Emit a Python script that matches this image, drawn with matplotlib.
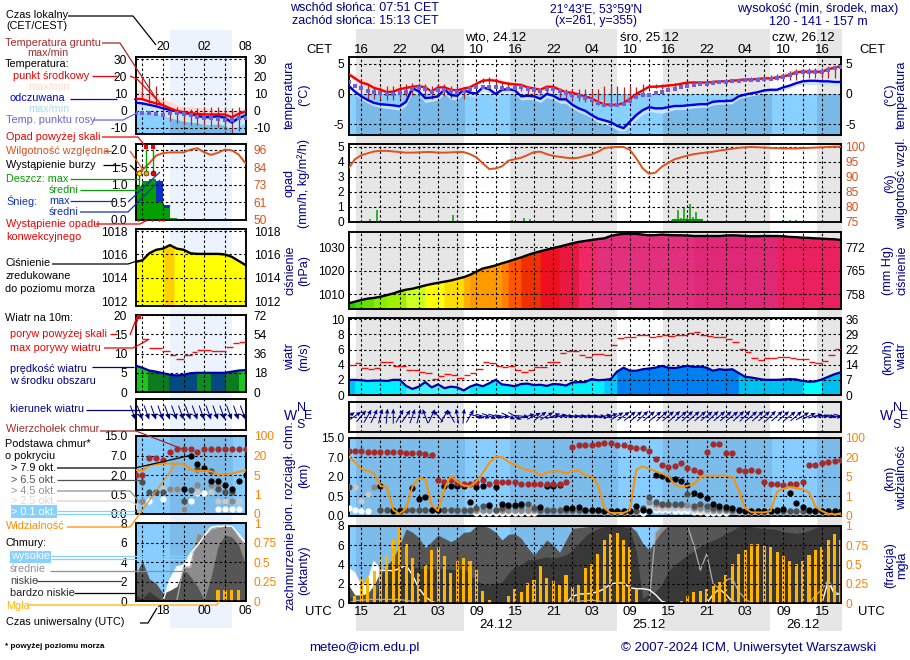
import numpy as np
import matplotlib
matplotlib.use('Agg')
import matplotlib.pyplot as plt
from matplotlib.patches import Rectangle

plt.rcParams['font.family'] = ['Liberation Sans', 'DejaVu Sans']
plt.rcParams['font.size'] = 8.6
n = np.nan

# ---- main meteogram, hourly from 13 UTC 23.12 -------------------------------
temp_mid = [3.3,2.6,1.9,1.6,1.0,.7,.3,.4,.8,1.0,1.2,1.3,1.1,.4,1.1,1.1,.7,.6,.9,1.1,1.7,2.2,2.3,2.2,1.9,1.7,1.6,1.5,1.1,.9,.7,1.2,1.2,.7,.3,.2,-.1,-.4,-.7,-1.3,
            -1.7,-1.8,-1.8,-1.5,-.8,0,.6,1.2,1.2,1.3,1.4,1.5,1.7,1.9,1.9,1.9,1.9,2.0,2.1,2.1,2.2,2.3,2.4,2.4,2.5,2.6,2.6,2.7,2.9,3.2,3.6,3.7,3.7,3.7,3.7,4.1,4.4,4.6]
temp_max = [3.6,3.2,2.8,2.3,2.0,1.5,1.2,1.1,1.3,1.5,1.6,1.7,1.4,1.0,1.4,1.4,1.2,1,1.3,1.6,2,2.6,2.7,2.6,2.4,2.1,2.0,1.9,1.6,1.3,1.1,1.6,1.6,1.1,.7,.6,.3,0,-.3,-.9,
            -1.3,-1.4,-1.4,-1.1,-.4,.4,1,1.5,1.5,1.6,1.7,1.8,2,2.2,2.1,2.1,2.1,2.2,2.3,2.3,2.4,2.5,2.6,2.7,2.8,3,3.1,3.2,3.5,3.9,4.2,4.3,4.3,4.3,4.3,4.7,4.9,5.0]
feels = [1.4,.4,-.4,-1.0,-1.5,-1.7,-1.8,-1.9,-2.05,-1.3,1.0,.4,-.7,-.6,-.4,.8,-.2,-.3,.7,.2,.1,1.1,.8,0,.7,.8,.6,-.4,-.3,-.4,-.8,0,-.3,-.9,-.9,-1.8,-2.4,-2.8,-3.5,-4.1,
         -4.4,-4.7,-5.3,-5.7,-4.6,-3.5,-2.7,-2.2,-2.4,-2.4,-2.2,-2,-2,-1.9,-1.8,-1.7,-1.7,-1.3,-1.2,-1.2,-1.1,-.4,-.1,.1,.3,.6,.7,.7,1.1,1.4,1.8,2.1,2.2,2.2,2.1,2.1,2,2]
feels_min = [.9,-.1,-.9,-1.5,-2,-2.2,-2.4,-2.5,-2.7,-1.9,.3,-.2,-1.4,-1.2,-1,.1,-.9,-1,.1,-.4,-.5,.5,.2,-.6,.1,.2,0,-1,-.9,-1,-1.4,-.6,-.9,-1.5,-1.6,-2.4,-3,-3.4,-4,-4.7,
             -5,-5.3,-6,-6.2,-5.4,-4.3,-3.4,-2.9,-3.1,-3.2,-2.9,-2.6,-2.6,-2.5,-2.3,-2.2,-2.2,-1.8,-1.7,-1.7,-1.6,-.8,-.5,-.3,-.1,.2,.3,.3,.7,1,1.4,1.6,1.6,1.6,1.5,1.5,1.4,1.4]
dew = [2.0,1.4,1,.5,.4,.2,0,0,.1,.4,.8,1,.9,.3,.7,.7,.5,.4,.5,.8,1.1,1.2,1.2,1.2,1,.9,1,1.1,.8,.7,.5,.8,.8,.5,.1,-.1,-.4,-.7,-1,-1.5,
       -1.8,-1.9,-1.9,-1.6,-1.1,-.5,-.2,-.1,.2,.4,.7,.9,1.1,1.3,1.5,1.6,1.7,1.8,2,2,2.1,2.2,2.3,2.3,2.4,2.5,2.5,2.6,2.8,3.1,3.5,3.6,3.6,3.6,3.6,4,4.3,4.5]
ground_max = [n,n,1.9,1.5,1.2,1.2,1.3,1.3,1.4,1.7,1.9,1.9,1.7,1.3,1.7,1.7,1.4,1.3,1.2,1.1,1.8,2.7,2.9,2.7,2.2,2,1.9,1.7,1.4,1.1,.9,1.4,1.4,1,.9,.9,.9,.9,.9,.9,
              1.3,1.3,1.3,1.2,1.3,1.1,1.7,1.7,1.7,1.7,1.7,1.8,1.9,2.1,2.2,2.2,2.2,2.3,2.4,2.4,2.5,2.6,2.7,2.8,2.9,3,3.1,3.3,3.5,3.9,4.2,4.2,4.4,4.4,4.4,4.6,4.7,4.6]
ground_min = [n,n,-.8,-.8,-.8,-.8,-1,-1,-.7,-.4,-.2,-.1,-.3,-.9,-.5,-.4,-.6,-.7,-.9,.4,1,1.9,1.7,1.6,1.3,1.1,1,.5,-.1,-.1,-.2,0,0,-.6,-.9,-1.1,-1.2,-1.4,-1.6,-1.8,
              -2,-2.1,-2,-1.9,-1.4,-.7,0,.9,1,.9,1.2,1.2,1.3,1.6,1.7,1.7,1.7,1.8,1.9,1.9,2,2.1,2.1,2.1,2.2,2.2,2.3,2.3,2.3,2.4,2.4,2.6,2.6,2.6,2.6,2.7,2.6,2.7]

humidity = [92.8,95.9,97.2,97.9,98.5,98.7,98.7,98.5,98.3,98.1,98.1,98.2,98.3,98.3,98.1,98.1,98.2,98.3,98.3,97.6,96.5,94.5,92.6,92.8,93.5,95.4,95.9,96.4,97.3,98.3,98.4,97.6,97,96.7,96.4,96.2,96.4,97,97.5,98.4,
            99.6,99.9,100,100,99,96.2,92.8,91,91.4,93.4,94.7,95.9,96.5,97.1,97.6,97.9,98.2,98.4,98.8,99.1,99.4,99.7,99.9,100,99.9,99.8,99.7,99.6,99.5,99.5,99.5,99.6,99.7,99.8,99.9,100,100.1,100.1]
rain_hours = [3.4,4.5,16.4,17.5,25.5,27.4,28.4,50.6,51,51.5,52,52.5,53,53.4,53.8,54.4,54.9,55.4,62,65,66,67,68,69,70,71,72]
rain_vals = [.2,.75,.43,.06,.1,.25,.2,.1,.2,.75,.22,1.0,.25,1.2,.28,.65,.2,.06,.03,.04,.06,.06,.08,.08,.1,.06,.04]

pressure = [1006.2,1006.9,1007.6,1008.2,1008.5,1009,1009.7,1010.4,1011.3,1012,1012.4,1013.1,1013.8,1014.4,1014.9,1015.4,1015.9,1016.6,1017.3,1018.3,1019.7,1021,1021.6,1022.3,1023.2,1024,1024.9,1025.7,1026.7,1027.6,1028.3,1029,1029.7,1030.3,1031,1031.7,1032.3,1032.7,1033.1,1033.5,
            1033.8,1034.8,1035.4,1035.7,1035.8,1035.7,1035.4,1035.1,1035.2,1035.4,1035.2,1035.1,1035.1,1035,1034.8,1034.8,1034.8,1034.8,1034.8,1035,1035.1,1035,1034.8,1034.7,1034.7,1034.8,1034.8,1034.8,1034.7,1034.4,1034.3,1034.1,1034,1033.8,1033.7,1033.5,1033.4,1033.1]
pressure_cols = [(1, '#22cc00'), (1, '#44dd00'), (2, '#66e000'), (2, '#88ee00'), (3, '#a0f000'), (3, '#ccff22'), (3, '#ffff00'), (3, '#ffdd00'),
                 (1, '#ffb000'), (5, '#ff9900'), (1, '#ff8000'), (2, '#ff5500'), (3, '#f03000'), (3, '#ee1020'), (3, '#e81840'), (3, '#f02868'),
                 (15, '#e0307e'), (13, '#e02878'), (11, '#ea2060')]

wind = [2,2,1.95,1.85,1.9,1.9,1.85,2,2,1.2,.8,1.1,1.7,1,1.4,.9,1.1,1,.6,1.1,1.4,1.15,1.55,2,1.4,1.3,1.15,1.45,1.5,1.3,1.35,1.2,1.45,1.4,1.25,1.65,1.7,1.7,2.1,1.95,
        2,2.1,3.1,3.6,3.2,3.2,3.4,3.5,3.6,3.85,3.6,3.55,3.7,3.85,3.7,3.75,3.6,3.2,3.4,3.3,3.4,2.9,2.4,2.3,2.15,2,2,2,2.05,2.1,2.05,1.85,1.75,1.8,2.05,2.4,2.75,3]
gust = [4,4.2,3.6,3.4,3.6,4.3,4.3,3.8,3.8,3.3,3.3,3.1,2.9,2.15,2.45,2.8,2.6,2.2,2.6,2.9,3.4,4.3,4.2,3.8,3.65,3.8,3.3,3.1,3.3,3.65,3.65,4.3,4.3,5.5,5.8,5.8,5.25,5,5.4,5.4,
        5.3,6.6,7.5,7.6,7.6,7.9,7.9,7.6,7.75,7.9,7.75,7.9,7.9,8.15,8.3,7.9,7.75,7.6,7.6,7.4,7,6.05,5.65,4.9,4.65,4.9,4.9,5.05,5.05,4.9,4.8,4.8,4.4,4.2,4.45,5.25,6.05]
wind_cols = [(1, '#00c0f8'), (8, '#00f0ff'), (10, '#40f4ff'), (21, '#00f0ff'), (2, '#00c8ff'), (19, '#0080f0'), (10, '#00c0f0'), (3, '#00ffff'), (3, '#00c0f0')]
wind_dir = [30,35,50,60,65,75,85,90,60,55,70,75,110,65,130,60,120,100,85,60,-15,-15,-20,-15,-10,-25,-30,-5,15,25,35,30,20,10,0,-3,0,-2,-2,-2,
            10,20,30,35,38,40,42,40,38,42,40,42,40,42,40,40,38,42,40,40,38,42,45,40,42,40,45,42,40,38,40,30,25,15,0,-5,-10,-15]

# position on the 0 / 0.5 / 2 / 7 / 15 km scale of the cloud panel
cloud_top = [3.34,3.34,3.34,3.29,3.29,3.29,3.29,3.29,3.29,3.24,3.21,3.21,3.16,3.12,1.83,1.74,1.83,1.67,1.62,1.62,1.74,1.81,1.62,1.72,1.72,1.72,1.72,1.64,1.64,1.64,1.64,1.64,1.64,1.64,1.72,3.53,3.62,3.62,3.62,3.7,
             3.72,3.72,3.62,3.62,3.53,3.47,3.47,3.34,2.91,2.62,2.5,2.53,2.69,2.45,2.36,2.26,3.29,3.7,3.7,3.22,3.19,2.36,2.29,2.36,2.31,1.72,1.64,1.64,1.55,1.64,1.64,1.72,2.59,2.62,2.69,2.74,2.79,2.84]
base_79 = [n,n,n,n,n,1.52,n,.26,.26,n,1.41,.86,.98,.29,.29,1.52,1.52,1.52,1.52,.72,1.45,1.52,.55,1.45,.59,.55,.55,.6,n,n,.43,1.52,1.52,1.59,.38,.38,.45,.28,.28,.28,
           .26,.26,.26,.26,.26,.5,.29,.24,2.07,2.02,1.88,1.88,1.76,1.59,1.16,1.07,.9,.62,.52,.47,.38,.29,.24,.24,.24,.24,.24,.28,.33,1.14,.64,.47,.29,.26,.24,.24,.24,.24]
base_65 = [1.48,n,n,n,n,.29,.29,.29,.29,.29,.29,.29,.29,.29,.29,.29,.29,.28,.28,.28,.4,.5,.5,.3,.4,.5,.5,.5,.62,.4,.3,.3,.3,.3,.3,.3,.3,.3,.28,.28,
           .26,.26,.26,.26,.26,.26,.4,.98,.7,.6,.6,.6,.6,1.1,.5,.6,.5,.4,.4,.35,.3,.29,.26,.26,.26,.26,.26,.26,.26,.24,.24,.26,.26,.26,.26,.26,.26,.26]
base_45 = [n,n,n,n,1.48,.27,.27,.27,.27,.27,.27,.27,.27,.27,.27,.27,.27,.26,.26,.26,.28,.3,.3,.28,.28,.3,.3,.3,.3,.28,.26,.26,.26,.26,.26,.26,.26,.26,.26,.26,
           .24,.24,.24,.24,.24,.24,.36,.72,.62,.55,.55,.55,.55,.55,.42,.42,.36,.3,.3,.28,.26,.26,.24,.24,.24,.24,.24,.24,.24,.22,.22,.24,.24,.24,.24,.24,.24,.24]
base_25 = [1.45,1.45,.76,1.1,n,.24,.24,.24,.24,.24,.24,.24,.24,.24,.24,.24,.24,.22,.22,.22,.24,.24,.24,.24,.24,.24,.24,.24,.24,.24,.24,.24,.24,.24,.24,.22,.22,.22,.22,.22,
           .2,.2,.2,.2,.2,.2,.28,.5,.4,.4,.4,.38,.38,.38,.3,.3,.26,.24,.24,.22,.22,.2,.2,.2,.2,.2,.2,.2,.2,.2,.2,.2,.2,.2,.2,.2,.2,.2]
base_01 = [.38,.31,.24,.24,n,n,n,n,n,n,n,n,n,n,n,n,n,n,n,n,.14,.14,.14,.14,.14,.14,.14,.14,.14,.14,n,n,n,n,n,n,n,n,n,n,
           n,n,n,n,n,n,.14,.36,.3,.28,.28,.25,.25,.22,.2,.18,.16,.16,.14,.14,n,n,n,n,n,n,n,n,n,n,n,n,n,n,n,n,n,n]
visibility = [3.05,2.74,2.4,2.31,2.17,1.52,1.47,.29,.09,.38,1.5,1.93,1.88,.55,.24,1.41,2.02,1.76,1.55,1.5,1.76,2.19,2.71,3.03,3,2.76,2.62,2.45,2.33,2.28,2.05,2.22,2.28,2.28,2.17,2.29,2.31,2.07,2.02,1.59,
              .38,.14,.14,.14,.29,2.36,2.53,2.41,2.28,2.16,2.02,1.59,1.45,1.53,1.62,1.97,2.05,2.05,2.05,2.05,2,1.33,.38,.17,.17,.17,.24,1.24,1.38,1.47,1.41,1.36,1.19,.47,.24,.1,.07,.12]

cloud_high = [3.6,3.1,1.7,2.2,4.3,3.4,3.4,3.35,3.6,3.95,2.9,1.55,.69,.17,0,0,0,0,0,0,0,0,0,0,0,0,0,0,0,0,0,0,0,0,0,.69,.96,.96,1.03,1.2,
              1.5,2,2.1,2.1,1.6,1.5,1.5,1.4,.9,.2,0,0,0,0,0,0,0,.9,1.5,.9,.2,0,0,0,0,0,0,0,0,0,0,0,0,0,0,2.3,.9,1]
cloud_mid = [0,.3,.3,.4,.4,.4,.4,.4,.4,.3,.2,0,0,0,0,0,0,0,0,0,0,0,0,0,0,0,0,0,0,0,0,0,0,0,0,0,.2,.3,.3,.3,
             0,0,0,0,0,0,0,0,7.3,8,8,8,8,8,6,3.4,5.1,2,1.5,2.4,2.6,1.2,.5,0,0,0,0,0,0,0,0,0,0,.8,1.4,2.4,1.2,.9]
cloud_low = [1.9,.86,.86,1.03,1.9,3.26,3.95,4.64,6.01,7.66,7.32,6.77,5.74,6.36,7.04,6.7,6.36,6.7,7.32,7.39,8,8,7.8,7.32,6.53,7.11,7.18,6.7,5.74,4.98,5.74,6.53,6,5.26,6.53,7.73,7.8,7.87,7.94,7.94,
             8,8,8,8,8,7.4,6.2,5.5,6.5,7.4,8,8,8,8,8,8,8,8,8,8,8,8,8,8,8,8,8,8,8,8,8,8,8,8,8,8,8,8]
cloud_vlow = [.8,.2,0,0,0,2.9,3.6,3.95,3.95,3.95,3.8,3.6,3.6,3.5,3.6,3.6,3.5,3.5,3.6,2.9,2.4,1.96,1.9,2.06,2.2,3.1,3.8,3.95,4.5,4.5,4.64,4.8,4.64,4.8,5,5.5,6.2,6.9,7.4,7.7,
              7.9,7.9,7.9,7.9,7.7,5.3,.5,1,1.2,2,3.3,4,4.5,5,5.4,5.9,6.2,6.5,6.8,7.2,7.5,7.9,8,7.9,7.8,7.7,7.7,7.6,7.4,7.3,7.2,7.3,7.5,7.8,8,8,8,8]
fog = [0,.09,.30,.33,.42,.61,.62,.81,.99,.76,.58,.39,.49,.69,.73,.61,.39,.54,.58,.54,.43,.16,.04,0,0,.09,.18,.15,.26,.30,.48,.32,.29,.24,.36,.21,.24,.46,.51,.64,
       .82,.89,.90,.82,.73,.18,0,0,0,0,0,0,.03,.09,.14,.16,.18,.22,.28,.37,.51,.64,.69,.76,.76,.74,.73,.66,.61,.54,.51,.54,.62,.69,.73,.82,.89,.82]

# ---- left inset, first 16 hours ----------------------------------------------
s_temp = [7,6.8,5.4,4.4,3.3,1.5,0,-.8,-1.3,-1.7,-2.1,-2.1,-2.1,-2.1,-3.7,-1.7,-.4]
s_feels = [4.8,4.4,3.5,2.7,1.5,.6,-.4,-1.3,-1.7,-2.9,-3.7,-3.7,-3.1,-4.1,-6.8,-4.3,-2.7]
s_temp_max = [13,10.8,9.9,8.3,7,5.4,3.5,2.5,2.5,2,1.5,1,.6,.6,-1.3,.6,1.5]
s_feels_min = [1,-.6,-1,-2,-3,-4,-5,-6,-6.5,-7,-8,-8,-7.5,-8.5,-11,-9,-7]
s_dew = [-1,-1,-1,-1.7,-2.7,-1,-1,-1.7,-2.7,-3.7,-4.3,-4.3,-4.8,-5.2,-5.6,-4.3,-4.3]
s_ground_max = [n,20,19,14.5,6,2,2,1.5,1,1.5,2,2,2,1.5,1.5,2,2.5]
s_ground_min = [n,7,4.4,2,-2.5,-6,-7,-8,-8,-8,-8,-9,-9.5,-11,-13,-12,-8]
s_humidity = [1.33,1.43,1.62,1.84,1.91,1.93,1.93,1.93,2.01,2.05,1.93,1.86,1.92,2.01,1.99,1.87,1.62]
s_rain = [.96,1.1,1.17,.52,.33,.05]
s_snow = [.96,1.1,1.17,1.1,.43,.05]
s_pressure = [1015.37,1015.5,1016.1,1016.4,1016.5,1016.8,1016.5,1016.4,1016.1,1016.05,1016.05,1016.05,1016.05,1016,1015.8,1015.45,1015.1]
s_wind = [6.9,6.3,5.6,5.3,4.9,4.5,4.3,4.5,4.9,5,5,5,5,5,5.3,5.6,5.7]
s_gust = [13.7,13.7,11.6,11.6,10.6,9.6,8.7,9.6,10.5,10.9,10.9,10.6,10.6,11.7,12.7,13]
s_gust_start = [.9,.9,1.9,1.9,3.9,5,5.9,7,8.2,9,10,11,12,13.2,14.2,15]
s_wind_cols = [(0, 1.85, '#1cc41c'), (1.85, 4.85, '#0e7c1e'), (4.85, 8.9, '#044a80'), (8.9, 11, '#0e8c1e'), (11, 13.1, '#044a80'), (13.1, 15, '#0e7c1e'), (15, 16, '#1cc41c')]
s_wind_dir = [-70] * 17
s_top = [2,2,2.85,2.85,2.77,3.2,3.32,3.32,3.32,3.2,3.32,3.32,3.32,3.32,3.32,3.32,3.32]
s_79 = [n,n,n,n,n,n,n,1.26,2.97,2.56,2.34,1.69,1.69,1.49,1.26,1.69,2.0]
s_65 = [n,1.66,1.11,1.11,1.11,n,n,.68,1.23,2.3,n,2.2,1.26,1.11,1.11,n,n]
s_45 = [n,.68,n,n,n,1.26,1.26,.24,n,1.48,n,1.48,1.48,n,.68,n,n]
s_25 = [.41,n,n,n,1.26,1.26,1.26,n,n,1.15,n,1.15,.68,.68,.68,.68,n]
s_01 = [n,.68,.68,n,.75,n,n,.24,.68,1.09,1.09,n,.24,.24,.24,.24,n]
s_vis = [2.26,2.22,2.48,2.55,2.58,2.58,2.58,2.58,2.29,2.2,2.22,2.19,2.03,2.03,2.07,2.17,2.24]
s_high = [0,0,0,0,0,2.2,3.5,3.7,4.9,5.7,6.7,7.6,7.7,7.7,7.7,6.9,6]
s_mid = [0,0,0,0,0,0,0,3.5,3.5,7,6.7,7.4,7.6,7.7,7.7,6.6,5.8]
s_low = [2.7,4.1,2.3,1.8,.8,1.1,1.5,3.3,2.5,1.5,.1,2.5,5.6,6.8,6.6,5.8,3.7]
s_vlow = [.6,.3,1,.45,0,0,0,0,0,0,0,0,0,0,0,0,0]
s_fog = [0,0,0,0,0,0,0,0,0,0,0,0,.14,.14,.14,.14,0]

hours = np.arange(78)
s_hours = np.arange(17)
W, H = 910, 660
NAVY = '#00008b'
DASH = (0, (2.2, 2.2))
nights = [(1.2, 18), (25.2, 42), (49.2, 66), (73.2, 77)]
s_nights = [(5.04, 14.1)]

fig = plt.figure(figsize=(W / 100, H / 100), dpi=100, facecolor='white')


def px_axes(x0, y0, x1, y1):
    a = fig.add_axes([x0 / W, 1 - y1 / H, (x1 - x0) / W, (y1 - y0) / H])
    a.patch.set_visible(False)
    return a


# page background and overlay in pixel coordinates
bg = px_axes(0, 0, W, H)
bg.set_xlim(0, W)
bg.set_ylim(H, 0)
bg.axis('off')
bg.set_zorder(-5)
for x0, x1 in [(356, 464), (510, 617), (663, 770), (817, 842)]:
    bg.add_patch(Rectangle((x0, 29), x1 - x0, 602, color='#e6e6e6', lw=0))
bg.add_patch(Rectangle((170, 30), 62, 598, color='#ecf3fd', lw=0))


def panel(box, ylim, lticks, llabels, rticks, rlabels, rlim=None, rcolor='black', small=False):
    ax = px_axes(*box)
    xmax = 16 if small else 77
    xt = np.arange(1, 16, 3) if small else np.arange(2, 78, 3)
    ax.set_xlim(0, xmax)
    ax.set_ylim(*ylim)
    ax.set_xticks([])
    ax.set_yticks(lticks)
    ax.set_yticklabels(llabels)
    ax.tick_params(axis='y', length=0, pad=6 if small else 3.2, labelsize=8.6)
    top = ax.twinx()
    top.set_ylim(*(rlim or ylim))
    top.set_yticks(rticks)
    top.set_yticklabels(rlabels, color=rcolor)
    top.tick_params(axis='y', length=0, pad=6 if small else 3.2, labelsize=8.6)
    top.patch.set_visible(False)
    for x in xt:
        top.axvline(x, color='black', lw=.8, ls=DASH, zorder=2)
    for y in rticks:
        top.axhline(y, color='black', lw=.8, ls=DASH, zorder=2)
    for a in (ax, top):
        for sp in a.spines.values():
            sp.set_linewidth(1.1)
    return ax, top


def night_fill(ax, x, y1, y2, color, spans):
    # same area as a normal fill, but only visible inside the night stripes
    for x0, x1 in spans:
        p = ax.fill_between(x, y1, y2, color=color, lw=0, zorder=1.2)
        p.set_clip_path(Rectangle((x0, -5000), x1 - x0, 10000, transform=ax.transData))


def column_fill(ax, x, y, runs, bottom):
    i = 0
    for count, color in runs:
        j = min(i + count, len(x) - 1)
        ax.fill_between(x[i:j + 1], bottom, y[i:j + 1], color=color, lw=.5, zorder=1)
        i = j


def temperature(ax, top, x, mid, tmax, fl, flmin, dw, gmax, gmin, spans, bottom, ms, lw):
    fl = np.array(fl)
    flmin = np.array(flmin)
    ax.fill_between(x, bottom, 0, color='#87d0ff', lw=0, zorder=1)
    night_fill(ax, x, bottom, np.minimum(flmin, 0), '#78b9e8', spans)
    ax.fill_between(x, mid, tmax, color='#ffd9d4', lw=0, zorder=1.5)
    ax.fill_between(x, flmin, fl, color='#c6e6fc', lw=0, zorder=1.5)
    top.vlines(x, gmin, gmax, color='#a52a2a', lw=.9, zorder=2.4)
    top.plot(x, fl, color='#0000e0', lw=lw, zorder=3)
    top.plot(x, mid, color='#f00000', lw=lw, zorder=3.2)
    top.plot(x, dw, ls='none', marker='s', ms=ms, color='#7060d8', mew=0, zorder=3.4)


def cloud_base(ax, top, x, layers, tp, vis, spans):
    ax.set_facecolor('#87cdff')
    ax.patch.set_visible(True)
    ymax = ax.get_ylim()[1]
    night_fill(ax, x, 0, ymax, '#7cbcea', spans)
    for vals, col in layers:
        top.plot(x, vals, ls='none', marker='o', ms=4.5, mew=0, color=col, zorder=2.6)
    top.plot(x, tp, ls='none', marker='o', ms=4.5, mew=0, color='#a52a2a', zorder=2.7)
    top.plot(x, vis, color='#ff9000', lw=1.4, zorder=3)


def clouds(ax, top, x, high, mid, low, vlow, fg, spans, fog_w):
    ax.set_facecolor('#87cdff')
    ax.patch.set_visible(True)
    night_fill(ax, x, 0, 8, '#7cbcea', spans)
    ax.fill_between(x, 0, high, color='white', lw=0, zorder=1.3)
    ax.fill_between(x, 0, mid, color='#8c8c8c', lw=0, zorder=1.4)
    ax.fill_between(x, 0, low, color='#565656', lw=0, zorder=1.5)
    ax.fill_between(x, 0, vlow, color='#383838', lw=0, zorder=1.6)
    ax.plot(x, mid, color='#aaaaaa', lw=.9, zorder=1.7)
    ax.plot(x, high, color='white', lw=1, zorder=1.8)
    top.bar(x, fg, width=fog_w, color='#ffb400', lw=0, zorder=1)


# ---- main panels --------------------------------------------------------------
L, R = 348.5, 841
ax, top = panel((L, 57.3, R, 135), (-6.83, 6.1), [-5, 0, 5], ['-5', '0', '5'], [-5, 0, 5], ['-5', '0', '5'])
temperature(ax, top, hours, temp_mid, temp_max, feels, feels_min, dew, ground_max, ground_min, nights, -6.83, 2.2, 1.7)

ax, top = panel((L, 144, R, 221.5), (0, 5.2), range(6), list('012345'), [75, 80, 85, 90, 95, 100],
                ['75', '80', '85', '90', '95', '100'], rlim=(75, 101), rcolor='#e0501a')
ax.vlines(rain_hours, 0, rain_vals, color='#00a000', lw=1.1, zorder=1)
ax.fill_between([50.6, 55.4], 0, [.2, .2], color='#00a000', lw=0, zorder=1)
top.plot(hours, humidity, color='#e0501a', lw=1.4, zorder=3)

ax, top = panel((L, 232, R, 308.5), (1004, 1036.5), [1010, 1020, 1030], ['1010', '1020', '1030'],
                [1010, 1020, 1030], ['758', '765', '772'])
column_fill(ax, hours, pressure, pressure_cols, 1004)
top.plot(hours, pressure, color='black', lw=1.7, zorder=3)

ax, top = panel((L, 317.7, R, 395), (0, 10.2), range(0, 11, 2), ['0', '2', '4', '6', '8', '10'],
                range(0, 11, 2), ['0', '7', '14', '22', '29', '36'])
column_fill(ax, hours, wind, wind_cols, 0)
top.hlines(gust, hours[:-1], hours[1:], color='#f01010', lw=1, zorder=3)
top.plot(hours, wind, color='#0000a0', lw=1.6, zorder=3.2)

ax, top = panel((L, 401.7, R, 431.7), (0, 1), [], [], [], [])
top.axhline(.5, color='black', lw=.8, ls=DASH, zorder=2)
rad = np.deg2rad(wind_dir)
top.quiver(hours, np.full(78, .52), np.cos(rad) * 15, np.sin(rad) * 15, units='dots', scale=1, angles='uv', scale_units='dots',
           pivot='mid', color='#000090', width=1, headwidth=4.5, headlength=5, headaxislength=4.5, zorder=3)

ticks_km = ['0.0', '0.5', '2.0', '7.0', '15.0']
ticks_vis = ['0', '1', '5', '20', '100']
ax, top = panel((L, 437.7, R, 515.7), (0, 4), range(5), ticks_km, range(5), ticks_vis, rcolor='#ff8000')
cloud_base(ax, top, hours, [(base_01, 'white'), (base_25, '#c8c8c8'), (base_45, '#888888'), (base_65, '#505050'), (base_79, 'black')],
           cloud_top, visibility, nights)

ax, top = panel((L, 525.7, R, 603.3), (0, 8), range(0, 9, 2), ['0', '2', '4', '6', '8'],
                [0, .25, .5, .75, 1], ['0', '0.25', '0.5', '0.75', '1'], rlim=(0, 1), rcolor='#ff8000')
clouds(ax, top, hours, cloud_high, cloud_mid, cloud_low, cloud_vlow, fog, nights, .48)

# ---- left inset panels -----------------------------------------------------------
SL, SR = 135.5, 245.5
t_ticks = [-10, 0, 10, 20, 30]
t_labels = ['-10', '0', '10', '20', '30']
ax, top = panel((SL, 57, SR, 134), (-13.5, 31.4), t_ticks, t_labels, t_ticks, t_labels, small=True)
temperature(ax, top, s_hours, s_temp, s_temp_max, s_feels, s_feels_min, s_dew, s_ground_max, s_ground_min, s_nights, -13.5, 2.2, 1.7)

p_ticks = [0, .5, 1, 1.5, 2]
ax, top = panel((SL, 144, SR, 220), (0, 2.17), p_ticks, ['0.0', '0.5', '1.0', '1.5', '2.0'], p_ticks, ['50', '61', '73', '84', '96'],
                rcolor='#e0501a', small=True)
ax.bar(np.arange(6), s_snow, width=1, align='edge', color='#1030c0', lw=0, zorder=1)
ax.bar(np.arange(6), s_rain, width=1, align='edge', color='#00a000', lw=0, zorder=1.1)
top.plot(s_hours, s_humidity, color='#e0501a', lw=1.4, zorder=3)
top.vlines([.55, 1.55, 2.6], [.96, 1.3, 1.3], [1.33, 2.02, 2.02], color='#00a000', lw=1, zorder=3)
top.plot([1.55, 2.6], [2.09, 2.09], ls='none', marker='s', ms=2.6, mew=0, color='#f00000', zorder=4, clip_on=False)
top.plot([.55], [1.33], ls='none', marker='o', ms=3.6, mfc='#ffe000', mec='black', mew=.4, zorder=4)
top.plot([1.55], [1.33], ls='none', marker='o', ms=3.6, mfc='#f0a000', mec='black', mew=.4, zorder=4)
top.plot([2.6], [1.33], ls='none', marker='o', ms=3.6, mfc='#f00000', mec='black', mew=.4, zorder=4)
top.plot([.4, 1.4, 2.4, 3.4, 4.0], [.01] * 5, ls='none', marker='o', ms=1.8, mew=0, color='#f00000', zorder=4, clip_on=False)

pr_ticks = [1012, 1014, 1016, 1018]
pr_labels = ['1012', '1014', '1016', '1018']
ax, top = panel((SL, 229.3, SR, 306), (1011.6, 1018.15), pr_ticks, pr_labels, pr_ticks, pr_labels, small=True)
ax.fill_between(s_hours, 1011.6, s_pressure, color='#ffff00', lw=0, zorder=1)
ax.fill_between([4.15, 5, 5.6], 1011.6, [1016.6, 1016.8, 1016.6], color='#ffd000', lw=0, zorder=1.1)
top.plot(s_hours, s_pressure, color='black', lw=1.7, zorder=3)

w_ticks = [0, 5, 10, 15, 20]
ax, top = panel((SL, 315.3, SR, 392), (0, 20), w_ticks, ['0', '5', '10', '15', '20'], w_ticks, ['0', '18', '36', '54', '72'], small=True)
ax.fill_between(s_hours, 0, s_wind, color='#0e7c1e', lw=0, zorder=1)
for x0, x1, col in s_wind_cols:
    ax.fill_between(s_hours, 0, s_wind, color=col, lw=0, zorder=1.1).set_clip_path(
        Rectangle((x0, -100), x1 - x0, 300, transform=ax.transData))
top.hlines(s_gust, s_gust_start, s_gust_start[1:] + [16], color='#f01010', lw=1, zorder=3)
top.plot(s_hours, s_wind, color='#0000a0', lw=1.6, zorder=3.2)
top.plot([0, .45], [17, 19.6], color='#f01010', lw=.8, zorder=3)
top.plot([.45], [19.6], ls='none', marker='s', ms=2.4, mew=0, color='#f00000', zorder=4)

ax, top = panel((SL, 398.7, SR, 430), (0, 1), [], [], [], [], small=True)
top.axhline(.5, color='black', lw=.8, ls=DASH, zorder=2)
rad = np.deg2rad(s_wind_dir)
top.quiver(s_hours, np.full(17, .33), np.cos(rad) * 15, np.sin(rad) * 15, units='dots', scale=1, angles='uv', scale_units='dots',
           pivot='tip', color='#000090', width=1, headwidth=5.5, headlength=6, headaxislength=5.5, zorder=3, clip_on=False)

ax, top = panel((SL, 436, SR, 514), (0, 4), range(5), ticks_km, range(5), ticks_vis, rcolor='#ff8000', small=True)
cloud_base(ax, top, s_hours, [(s_01, 'white'), (s_25, '#c8c8c8'), (s_45, '#888888'), (s_65, '#505050'), (s_79, 'black')], s_top, s_vis, s_nights)

ax, top = panel((SL, 523.3, SR, 601), (0, 8), range(0, 9, 2), ['0', '2', '4', '6', '8'],
                [0, .25, .5, .75, 1], ['0', '0.25', '0.5', '0.75', '1'], rlim=(0, 1), rcolor='#ff8000', small=True)
clouds(ax, top, s_hours, s_high, s_mid, s_low, s_vlow, s_fog, s_nights, .5)

# ---- all text and leader lines ------------------------------------------------------
ov = px_axes(0, 0, W, H)
ov.set_xlim(0, W)
ov.set_ylim(H, 0)
ov.axis('off')
ov.set_zorder(20)


def txt(x, y, s, color='black', ha='left', size=7.8, **kw):
    ov.text(x, y, s, color=color, ha=ha, va='center', fontsize=size, **kw)


def leader(xs, ys, color='black', lw=.9):
    ov.plot(xs, ys, color=color, lw=lw, solid_capstyle='butt')


BROWN = '#a52a2a'
RED = '#f00000'
GREEN = '#00a000'
BLUE = '#1030c0'
ORANGE = '#ff8c00'

ov.add_patch(Rectangle((11, 505), 46, 13, color='#88d0ff', lw=0))
ov.add_patch(Rectangle((10, 551), 41, 12, color='#88d0ff', lw=0))

labels = [
    (6, 15, 'Czas lokalny', 'black'), (6, 26, '(CET/CEST)', 'black'),
    (5, 43, 'Temperatura gruntu', BROWN), (27, 53, 'max/min', BROWN),
    (5, 64, 'Temperatura:', 'black'), (13, 76, 'punkt środkowy', RED), (28, 87, 'max/min', '#ffd8c8'),
    (10, 98, 'odczuwana', '#0000e0'), (28, 109, 'max/min', '#a8dcf4'), (6, 120, 'Temp. punktu rosy', '#7060d8'),
    (6, 137, 'Opad powyżej skali', RED), (6, 151, 'Wilgotność względna', '#e0501a'), (6, 165, 'Wystąpienie burzy', 'black'),
    (6, 179, 'Deszcz: max', GREEN), (49, 190, 'średni', GREEN), (6, 201, 'Śnieg:', BLUE), (49, 201, 'max', BLUE), (49, 212, 'średni', BLUE),
    (6, 224, 'Wystąpienie opadu', RED), (6, 237, 'konwekcyjnego', RED),
    (5, 263, 'Ciśnienie', 'black'), (5, 276, 'zredukowane', 'black'), (5, 289, 'do poziomu morza', 'black'),
    (5, 318, 'Wiatr na 10m:', 'black'), (10, 334, 'poryw powyżej skali', RED), (10, 348, 'max porywy wiatru', RED),
    (10, 369, 'prędkość wiatru', NAVY), (10, 381, 'w środku obszaru', NAVY), (10, 409, 'kierunek wiatru', NAVY),
    (6, 429, 'Wierzchołek chmur', BROWN), (5, 444, 'Podstawa chmur*', 'black'), (5, 456, 'o pokryciu', 'black'),
    (11, 468, '> 7.9 okt.', 'black'), (11, 480, '> 6.5 okt.', '#505050'), (11, 491, '> 4.5 okt.', '#909090'),
    (11, 501, '> 2.5 okt.', '#e0d8d0'), (11, 512, '> 0.1 okt.', 'white'), (6, 526, 'Widzialność', ORANGE),
    (6, 543, 'Chmury:', 'black'), (11, 556, 'wysokie', 'white'), (10, 569, 'średnie', '#909090'), (10, 581, 'niskie', '#404040'),
    (10, 593, 'bardzo niskie', '#202020'), (6, 606, 'Mgła', '#ffb400'), (6, 622, 'Czas uniwersalny (UTC)', 'black'),
]
for x, y, s, c in labels:
    txt(x, y, s, c)
txt(5, 647, '* powyżej poziomu morza', 'black', size=5.9, fontweight='bold')

leader([68, 133, 156], [16, 16, 45])
leader([102, 120, 157], [43, 43, 100], BROWN)
leader([92, 117], [76, 76], RED)
leader([130, 137, 162], [76, 79, 105], RED)
leader([70, 117], [99, 99], '#0000e0')
leader([134, 137], [99, 101], '#0000e0')
leader([93, 123, 137], [120, 120, 113], '#7060d8')
leader([102, 138, 146], [137, 137, 147], RED)
leader([104, 111], [151, 151], '#e0501a')
leader([130, 143], [151, 170], '#e0501a')
leader([103, 120], [165, 165])
leader([130, 135], [165, 170])
leader([70, 139], [179, 179], GREEN)
leader([80, 139], [190, 190], GREEN)
leader([70, 115], [201, 201], BLUE)
leader([128, 160], [202, 172], BLUE)
leader([80, 128, 160], [212, 212, 180], BLUE)
leader([96, 140, 147], [224, 224, 220], RED)
leader([52, 128, 137], [264, 264, 261])
leader([110, 117], [334, 334], RED)
leader([130, 137], [335, 317], RED)
leader([104, 133, 148], [348, 348, 340], RED)
leader([92, 134], [367, 367], NAVY)
leader([86, 140], [410, 410], NAVY)
leader([100, 136, 185], [431, 431, 450], BROWN)
leader([57, 135, 192], [468, 468, 455])
leader([57, 143], [480, 480], '#505050')
leader([57, 130, 142], [491, 491, 505], '#909090')
leader([57, 130, 137], [501, 501, 505], '#d8d0c8')
leader([57, 135], [511, 511], '#88d0ff')
leader([57, 135], [513.5, 513.5], '#88d0ff')
leader([67, 130, 175], [527, 527, 465], ORANGE)
leader([51, 186], [556, 556], '#88d0ff')
leader([51, 186], [558.5, 558.5], '#88d0ff')
leader([50, 192], [571, 571], '#909090')
leader([36, 122], [581, 581], '#404040')
leader([74, 136], [593, 593])
leader([27, 217, 219], [605, 605, 601], '#ffb400')
leader([140, 148, 157], [623, 623, 608])

for x, s in [(163, '20'), (204, '02'), (245, '08')]:
    txt(x, 47, s, ha='center', size=8.8)
for x, s in [(163, '18'), (204, '00'), (245, '06')]:
    txt(x, 611, s, ha='center', size=8.8)

# header and footer
txt(290, 8, 'wschód słońca: 07:51 CET', NAVY, size=9)
txt(292, 21, 'zachód słońca: 15:13 CET', NAVY, size=9)
txt(596, 9, "21°43'E, 53°59'N", NAVY, 'center', size=8.8)
txt(596, 21, '(x=261, y=355)', NAVY, 'center', size=8.8)
txt(818, 9, 'wysokość (min, środek, max)', NAVY, 'center', size=9)
txt(818, 22, '120 - 141 - 157 m', NAVY, 'center', size=9)
for x, s in [(496, 'wto, 24.12'), (649, 'śro, 25.12'), (803, 'czw, 26.12')]:
    txt(x, 37, s, ha='center', size=9.5)
for x, s in [(496, '24.12'), (649, '25.12'), (803, '26.12')]:
    txt(x, 625, s, ha='center', size=9.5)
txt(319, 50, 'CET', ha='center', size=9.4)
txt(872, 50, 'CET', ha='center', size=9.4)
txt(318, 612, 'UTC', ha='center', size=9.4)
txt(871, 612, 'UTC', ha='center', size=9.4)
cet_labels = ['16', '22', '04', '10']
utc_labels = ['15', '21', '03', '09']
for i in range(13):
    x = L + 6.4 * (2 + 6 * i)
    txt(x, 50, cet_labels[i % 4], ha='center', size=9.5)
    txt(x, 612, utc_labels[i % 4], ha='center', size=9.5)
txt(309, 648, 'meteo@icm.edu.pl', NAVY, size=9.5)
txt(749, 648, '© 2007-2024 ICM, Uniwersytet Warszawski', NAVY, 'center', size=9.5)

# rotated panel titles
for x, y, s in [(290, 95, 'temperatura'), (304, 95, '(°C)'), (290, 183, 'opad'), (304, 183, '(mm/h, kg/m²/h)'),
                (290, 270, 'ciśnienie'), (304, 270, '(hPa)'), (290, 357, 'wiatr'), (304, 357, '(m/s)'),
                (290, 475, 'pion. rozciągł. chm.'), (304, 475, '(km)'), (290, 570, 'zachmurzenie'), (304, 570, '(oktanty)'),
                (890, 95, '(°C)'), (902, 95, 'temperatura'), (890, 183, '(%)'), (902, 183, 'wilgotność wzgl.'),
                (888, 270, '(mm Hg)'), (902, 270, 'ciśnienie'), (888, 357, '(km/h)'), (902, 357, 'wiatr'),
                (890, 478, '(km)'), (902, 478, 'widzialność'), (890, 565, '(frakcja)'), (902, 565, 'mgła')]:
    ov.text(x, y, s, color=NAVY, rotation=90, ha='center', va='center', fontsize=9.1)

for dx in (0, 596):
    txt(291 + dx, 416, 'W', NAVY, 'center', size=10)
    txt(301 + dx, 408, 'N', NAVY, 'center', size=9)
    txt(308 + dx, 416, 'E', NAVY, 'center', size=9)
    txt(301 + dx, 425, 'S', NAVY, 'center', size=9)

fig.savefig('out.png', dpi=100)
